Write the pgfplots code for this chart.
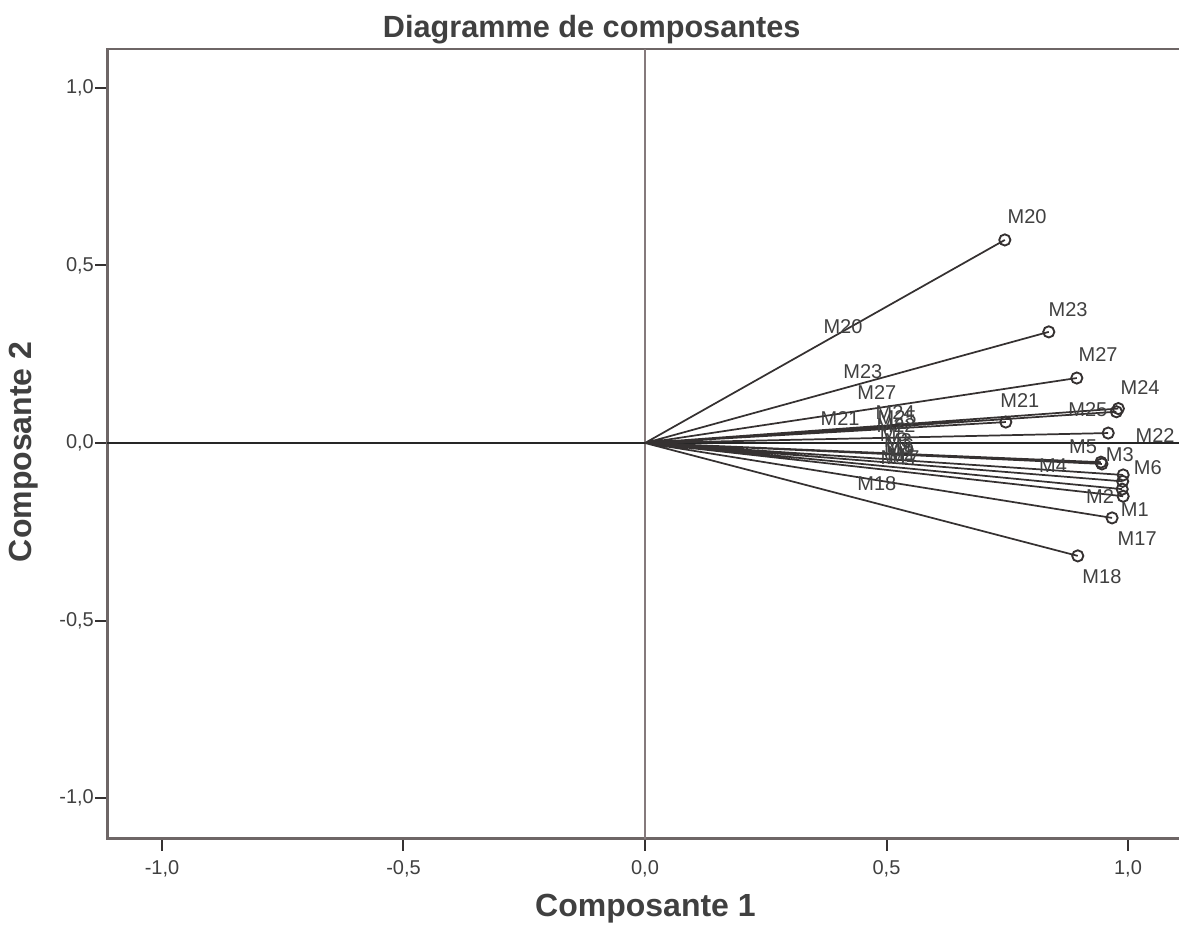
\documentclass[border=0pt]{standalone}
\usepackage{pgfplots}
\pgfplotsset{compat=1.18}
\usepackage{pgfplotstable}
\usepackage{fontspec}
\setmainfont{Liberation Sans}
\definecolor{linecol}{HTML}{353131}
\definecolor{framecol}{HTML}{6E6666}
\definecolor{zerocol}{HTML}{857A7C}
\definecolor{txtcol}{HTML}{404040}

% loadings (end points)
\pgfplotstableread{
x y lab
0.745 0.572 M20
0.836 0.313 M23
0.894 0.183 M27
0.980 0.097 M24
0.976 0.088 M25
0.747 0.059 M21
0.959 0.028 M22
0.944 -0.054 M5
0.946 -0.059 M3
0.990 -0.090 M6
0.989 -0.108 M4
0.988 -0.130 M2
0.990 -0.150 M1
0.967 -0.211 M17
0.896 -0.318 M18
}\points

% label positions next to end points
\pgfplotstableread{
x y lab
0.791 0.637 M20
0.876 0.377 M23
0.938 0.248 M27
1.025 0.155 M24
0.917 0.093 M25
0.776 0.121 M21
1.056 0.020 M22
0.907 -0.011 M5
0.983 -0.034 M3
1.041 -0.070 M6
0.845 -0.065 M4
0.942 -0.152 M2
1.014 -0.189 M1
1.019 -0.268 M17
0.946 -0.375 M18
}\endlabels

% label positions along the vectors
\pgfplotstableread{
x y lab
0.410 0.327 M20
0.451 0.200 M23
0.480 0.141 M27
0.404 0.070 M21
0.518 0.085 M24
0.522 0.072 M25
0.520 0.048 M22
0.515 0.022 M5
0.524 0.006 M3
0.528 -0.008 M6
0.524 -0.020 M4
0.530 -0.030 M2
0.534 -0.036 M1
0.528 -0.042 M17
0.480 -0.113 M18
}\midlabels

\begin{document}
\begin{tikzpicture}
\begin{axis}[
  x=362.25pt, y=266.25pt,
  xmin=-1.113, xmax=1.115, ymin=-1.115, ymax=1.11,
  axis line style={framecol, line width=2pt},
  xtick={-1,-0.5,0,0.5,1}, ytick={-1,-0.5,0,0.5,1},
  tick pos=left, tick align=outside,
  major tick length=9pt,
  tick style={line width=1.5pt, color=linecol},
  ticklabel style={font=\fontsize{15}{17}\selectfont, text=txtcol},
  xticklabel style={yshift=-4pt},
  yticklabel style={inner sep=1pt},
  /pgf/number format/use comma,
  /pgf/number format/fixed,
  /pgf/number format/fixed zerofill,
  /pgf/number format/precision=1,
  /pgf/number format/assume math mode=true,
  clip=false,
  title={Diagramme de composantes},
  title style={at={(axis description cs:0.450,1.0145)}, anchor=center,
    font=\bfseries\fontsize{23}{27}\selectfont, text=txtcol},
  xlabel={Composante 1},
  xlabel style={at={(axis description cs:0.5,-0.088)}, anchor=center,
    font=\bfseries\fontsize{24}{28}\selectfont, text=txtcol},
  ylabel={Composante 2},
  ylabel style={at={(axis description cs:-0.078,0.490)}, anchor=center, rotate=0,
    font=\bfseries\fontsize{24}{28}\selectfont, text=txtcol},
]
% zero lines
\addplot[zerocol, line width=2pt] coordinates {(0,-1.115) (0,1.11)};
\addplot[black!85, line width=1.5pt] coordinates {(-1.113,0) (1.115,0)};

% vectors
\addplot[linecol, line width=1.3pt, unbounded coords=jump] coordinates {
(0,0) (0.745,0.572) (nan,nan)
(0,0) (0.836,0.313) (nan,nan)
(0,0) (0.894,0.183) (nan,nan)
(0,0) (0.980,0.097) (nan,nan)
(0,0) (0.976,0.088) (nan,nan)
(0,0) (0.747,0.059) (nan,nan)
(0,0) (0.959,0.028) (nan,nan)
(0,0) (0.944,-0.054) (nan,nan)
(0,0) (0.946,-0.059) (nan,nan)
(0,0) (0.990,-0.090) (nan,nan)
(0,0) (0.989,-0.108) (nan,nan)
(0,0) (0.988,-0.130) (nan,nan)
(0,0) (0.990,-0.150) (nan,nan)
(0,0) (0.967,-0.211) (nan,nan)
(0,0) (0.896,-0.318)
};

% end point markers
\addplot[only marks, mark=o, mark size=4.2pt, mark options={linecol, line width=1.4pt}]
  table[x=x, y=y] {\points};

% labels
\addplot[only marks, mark=none, nodes near coords, point meta=explicit symbolic,
  nodes near coords style={anchor=center, inner sep=0pt, text=txtcol,
    font=\fontsize{15}{17}\selectfont}]
  table[x=x, y=y, meta=lab] {\endlabels};
\addplot[only marks, mark=none, nodes near coords, point meta=explicit symbolic,
  nodes near coords style={anchor=center, inner sep=0pt, text=txtcol,
    font=\fontsize{15}{17}\selectfont}]
  table[x=x, y=y, meta=lab] {\midlabels};

\coordinate (bbsw) at (axis cs:-1.3354,-1.3606);
\coordinate (bbne) at (axis cs:1.1056,1.2479);
\end{axis}
\pgfresetboundingbox
\path[use as bounding box] (bbsw) rectangle (bbne);
\end{tikzpicture}
\end{document}
